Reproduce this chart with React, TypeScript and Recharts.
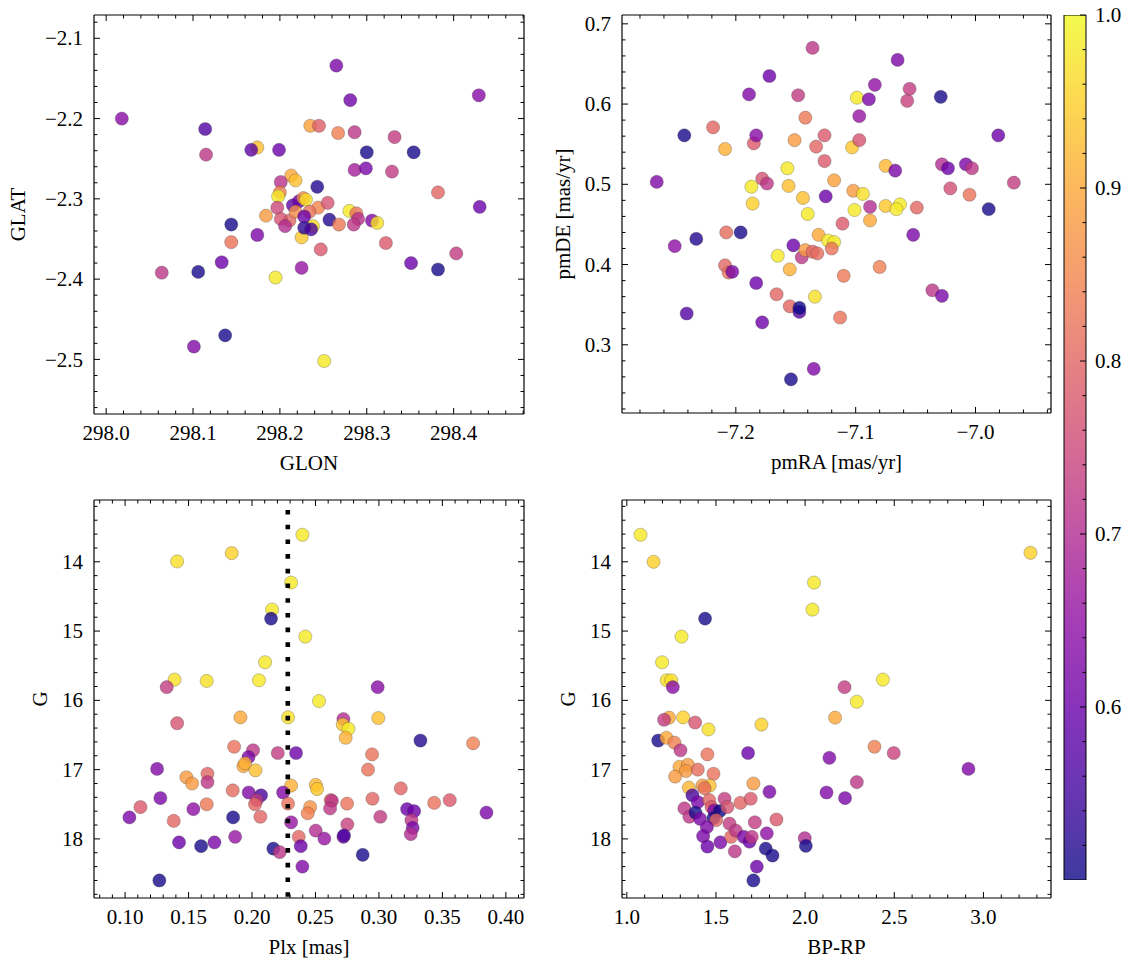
import React from 'react';
import { ScatterChart, Scatter, XAxis, YAxis, BarChart, Bar } from 'recharts';

const FONT = '"Liberation Serif", "DejaVu Serif", serif';
const FS = 21;

// ---- data: [x, y, membership probability] ----
const glonGlat: number[][] = [
  [298.018, -2.200, 0.64], [298.265, -2.134, 0.62], [298.281, -2.177, 0.61], [298.429, -2.171, 0.64],
  [298.114, -2.213, 0.57], [298.115, -2.245, 0.72], [298.235, -2.209, 0.89], [298.245, -2.209, 0.79],
  [298.267, -2.218, 0.84], [298.286, -2.217, 0.72], [298.332, -2.223, 0.73], [298.174, -2.236, 0.93],
  [298.167, -2.239, 0.58], [298.199, -2.239, 0.6], [298.300, -2.242, 0.51], [298.354, -2.242, 0.51],
  [298.286, -2.264, 0.68], [298.299, -2.262, 0.62], [298.329, -2.266, 0.73], [298.382, -2.292, 0.8],
  [298.430, -2.310, 0.6], [298.243, -2.285, 0.52], [298.213, -2.271, 0.9], [298.218, -2.277, 0.93],
  [298.201, -2.279, 0.71], [298.200, -2.292, 0.84], [298.198, -2.297, 0.98], [298.197, -2.311, 0.75],
  [298.184, -2.321, 0.88], [298.215, -2.308, 0.58], [298.222, -2.303, 0.6], [298.227, -2.299, 0.86],
  [298.230, -2.301, 0.97], [298.244, -2.311, 0.85], [298.255, -2.305, 0.77], [298.257, -2.326, 0.52],
  [298.280, -2.315, 0.98], [298.288, -2.318, 0.82], [298.290, -2.325, 0.71], [298.268, -2.332, 0.83],
  [298.285, -2.332, 0.72], [298.306, -2.327, 0.63], [298.312, -2.330, 0.97], [298.322, -2.355, 0.78],
  [298.403, -2.368, 0.73], [298.351, -2.380, 0.6], [298.382, -2.388, 0.51], [298.247, -2.363, 0.78],
  [298.225, -2.348, 0.94], [298.238, -2.334, 0.97], [298.211, -2.327, 0.8], [298.201, -2.325, 0.77],
  [298.218, -2.316, 0.86], [298.234, -2.316, 0.82], [298.228, -2.322, 0.6], [298.206, -2.334, 0.7],
  [298.228, -2.336, 0.53], [298.236, -2.338, 0.56], [298.144, -2.332, 0.51], [298.144, -2.354, 0.82],
  [298.174, -2.345, 0.62], [298.133, -2.379, 0.6], [298.106, -2.391, 0.51], [298.064, -2.392, 0.72],
  [298.195, -2.398, 0.98], [298.225, -2.386, 0.66], [298.137, -2.470, 0.51], [298.101, -2.484, 0.63],
  [298.251, -2.502, 0.98],
];

const pmraPmde: number[][] = [
  [-7.266, 0.503, 0.63], [-7.251, 0.423, 0.65], [-7.243, 0.561, 0.51], [-7.241, 0.339, 0.57],
  [-7.233, 0.432, 0.52], [-7.219, 0.571, 0.8], [-7.209, 0.544, 0.91], [-7.208, 0.440, 0.81],
  [-7.196, 0.440, 0.51], [-7.209, 0.399, 0.8], [-7.206, 0.390, 0.82], [-7.203, 0.391, 0.62],
  [-7.189, 0.612, 0.63], [-7.172, 0.635, 0.6], [-7.185, 0.551, 0.78], [-7.183, 0.561, 0.64],
  [-7.187, 0.497, 0.98], [-7.186, 0.476, 0.95], [-7.178, 0.507, 0.77], [-7.174, 0.501, 0.72],
  [-7.183, 0.377, 0.6], [-7.178, 0.328, 0.6], [-7.165, 0.411, 0.98], [-7.166, 0.363, 0.8],
  [-7.157, 0.520, 0.98], [-7.156, 0.498, 0.93], [-7.151, 0.555, 0.88], [-7.148, 0.611, 0.73],
  [-7.142, 0.583, 0.83], [-7.144, 0.483, 0.93], [-7.140, 0.463, 0.98], [-7.152, 0.424, 0.6],
  [-7.155, 0.394, 0.91], [-7.155, 0.348, 0.8], [-7.147, 0.341, 0.57], [-7.147, 0.346, 0.5],
  [-7.145, 0.409, 0.72], [-7.142, 0.418, 0.88], [-7.136, 0.670, 0.72], [-7.133, 0.547, 0.8],
  [-7.126, 0.561, 0.78], [-7.126, 0.529, 0.78], [-7.125, 0.485, 0.6], [-7.131, 0.437, 0.9],
  [-7.136, 0.416, 0.8], [-7.132, 0.414, 0.81], [-7.134, 0.360, 0.97], [-7.154, 0.257, 0.51],
  [-7.135, 0.270, 0.63], [-7.118, 0.505, 0.89], [-7.123, 0.430, 0.98], [-7.118, 0.428, 0.98],
  [-7.120, 0.420, 0.82], [-7.111, 0.451, 0.78], [-7.110, 0.386, 0.83], [-7.113, 0.334, 0.82],
  [-7.103, 0.546, 0.94], [-7.097, 0.555, 0.77], [-7.097, 0.585, 0.66], [-7.099, 0.608, 0.98],
  [-7.089, 0.606, 0.62], [-7.084, 0.624, 0.65], [-7.102, 0.492, 0.88], [-7.094, 0.488, 0.97],
  [-7.101, 0.468, 0.98], [-7.088, 0.472, 0.7], [-7.088, 0.455, 0.9], [-7.080, 0.397, 0.84],
  [-7.075, 0.523, 0.92], [-7.075, 0.473, 0.94], [-7.067, 0.517, 0.62], [-7.065, 0.655, 0.62],
  [-7.063, 0.475, 0.98], [-7.066, 0.469, 0.98], [-7.057, 0.604, 0.74], [-7.055, 0.619, 0.73],
  [-7.052, 0.437, 0.62], [-7.049, 0.471, 0.8], [-7.036, 0.368, 0.72], [-7.028, 0.361, 0.62],
  [-7.029, 0.609, 0.51], [-7.028, 0.525, 0.7], [-7.023, 0.520, 0.6], [-7.021, 0.495, 0.76],
  [-7.008, 0.525, 0.62], [-7.003, 0.520, 0.72], [-7.005, 0.487, 0.82], [-6.989, 0.469, 0.51],
  [-6.981, 0.561, 0.6], [-6.968, 0.502, 0.73],
];

const plxG: number[][] = [
  [0.2397, 13.61, 0.98], [0.184, 13.875, 0.95], [0.141, 13.995, 0.97], [0.2308, 14.30, 0.98],
  [0.2158, 14.69, 0.98], [0.215, 14.82, 0.51], [0.242, 15.08, 0.98], [0.2103, 15.45, 0.98],
  [0.139, 15.70, 0.97], [0.1643, 15.72, 0.97], [0.2055, 15.71, 0.98], [0.1328, 15.81, 0.73],
  [0.299, 15.81, 0.64], [0.2528, 16.01, 0.98], [0.141, 16.33, 0.77], [0.1909, 16.245, 0.9],
  [0.2284, 16.245, 0.97], [0.2995, 16.255, 0.93], [0.272, 16.27, 0.7], [0.2715, 16.35, 0.94],
  [0.276, 16.41, 0.98], [0.2738, 16.54, 0.91], [0.3327, 16.58, 0.52], [0.3742, 16.62, 0.84],
  [0.1859, 16.67, 0.82], [0.2008, 16.72, 0.72], [0.1972, 16.82, 0.62], [0.2203, 16.76, 0.73],
  [0.2347, 16.76, 0.6], [0.2946, 16.78, 0.82], [0.1252, 16.99, 0.63], [0.1649, 17.06, 0.8],
  [0.1483, 17.11, 0.88], [0.1528, 17.20, 0.88], [0.1649, 17.18, 0.72], [0.1932, 16.95, 0.9],
  [0.1945, 16.91, 0.91], [0.2027, 17.01, 0.93], [0.2914, 17.00, 0.82], [0.2308, 17.23, 0.91],
  [0.2502, 17.22, 0.92], [0.2513, 17.28, 0.94], [0.3172, 17.27, 0.8], [0.1278, 17.41, 0.62],
  [0.1121, 17.54, 0.78], [0.1034, 17.69, 0.62], [0.1383, 17.74, 0.8], [0.1538, 17.57, 0.65],
  [0.1643, 17.50, 0.83], [0.1848, 17.30, 0.81], [0.1974, 17.33, 0.63], [0.2071, 17.37, 0.56],
  [0.2037, 17.44, 0.72], [0.2024, 17.50, 0.8], [0.2066, 17.68, 0.8], [0.1851, 17.69, 0.51],
  [0.2245, 17.33, 0.63], [0.2284, 17.49, 0.82], [0.2458, 17.54, 0.87], [0.2439, 17.63, 0.84],
  [0.2620, 17.44, 0.8], [0.2630, 17.45, 0.72], [0.2615, 17.56, 0.72], [0.2749, 17.49, 0.82],
  [0.2949, 17.42, 0.8], [0.3011, 17.68, 0.73], [0.2751, 17.79, 0.74], [0.2308, 17.76, 0.66],
  [0.2502, 17.88, 0.7], [0.2570, 17.995, 0.66], [0.2720, 17.97, 0.62], [0.2725, 17.95, 0.56],
  [0.2368, 17.97, 0.8], [0.2384, 18.105, 0.6], [0.2397, 18.40, 0.63], [0.2168, 18.14, 0.51],
  [0.2218, 18.19, 0.72], [0.2872, 18.23, 0.51], [0.3222, 17.57, 0.6], [0.3277, 17.60, 0.6],
  [0.3256, 17.73, 0.72], [0.3266, 17.84, 0.62], [0.3251, 17.93, 0.7], [0.3435, 17.48, 0.82],
  [0.3558, 17.44, 0.78], [0.3847, 17.62, 0.62], [0.1425, 18.05, 0.6], [0.1599, 18.105, 0.51],
  [0.1704, 18.05, 0.62], [0.1867, 17.97, 0.66], [0.1270, 18.60, 0.51],
];

const bprpG: number[][] = [
  [1.077, 13.61, 0.98], [1.150, 14.0, 0.95], [3.264, 13.87, 0.95], [2.050, 14.30, 0.98],
  [2.041, 14.69, 0.98], [1.439, 14.82, 0.51], [1.307, 15.08, 0.98], [1.198, 15.45, 0.98],
  [1.224, 15.71, 0.97], [1.249, 15.71, 0.97], [1.258, 15.81, 0.64], [2.436, 15.70, 0.98],
  [2.221, 15.81, 0.73], [2.290, 16.02, 0.98], [1.237, 16.25, 0.9], [1.316, 16.245, 0.95],
  [1.209, 16.28, 0.73], [1.383, 16.32, 0.77], [1.458, 16.42, 0.97], [1.755, 16.35, 0.95],
  [2.168, 16.25, 0.9], [1.176, 16.58, 0.51], [1.222, 16.54, 0.9], [1.267, 16.61, 0.84],
  [1.301, 16.72, 0.72], [1.452, 16.78, 0.82], [1.680, 16.76, 0.6], [2.389, 16.67, 0.84],
  [2.497, 16.76, 0.74], [2.136, 16.83, 0.63], [2.916, 16.99, 0.63], [1.295, 16.96, 0.9],
  [1.342, 16.93, 0.88], [1.331, 17.02, 0.88], [1.271, 17.10, 0.88], [1.398, 17.00, 0.81],
  [1.486, 17.06, 0.82], [1.348, 17.26, 0.92], [1.465, 17.23, 0.93], [1.424, 17.23, 0.88],
  [1.436, 17.27, 0.82], [1.710, 17.20, 0.88], [1.800, 17.32, 0.62], [2.120, 17.33, 0.63],
  [2.290, 17.18, 0.72], [2.224, 17.41, 0.62], [1.368, 17.37, 0.56], [1.323, 17.56, 0.72],
  [1.398, 17.47, 0.62], [1.351, 17.68, 0.72], [1.385, 17.62, 0.51], [1.411, 17.71, 0.62],
  [1.462, 17.44, 0.8], [1.475, 17.54, 0.78], [1.490, 17.59, 0.62], [1.521, 17.60, 0.5],
  [1.486, 17.70, 0.51], [1.548, 17.42, 0.73], [1.564, 17.54, 0.77], [1.501, 17.73, 0.8],
  [1.449, 17.83, 0.63], [1.428, 17.96, 0.62], [1.452, 18.11, 0.6], [1.525, 18.05, 0.62],
  [1.576, 17.78, 0.73], [1.585, 17.97, 0.8], [1.611, 17.88, 0.72], [1.606, 18.18, 0.72],
  [1.637, 17.48, 0.8], [1.695, 17.42, 0.78], [1.656, 17.97, 0.62], [1.688, 18.04, 0.6],
  [1.701, 17.97, 0.72], [1.718, 17.76, 0.73], [1.785, 17.92, 0.65], [1.839, 17.72, 0.78],
  [1.779, 18.14, 0.51], [1.817, 18.24, 0.51], [1.729, 18.40, 0.6], [1.710, 18.60, 0.51],
  [1.998, 17.99, 0.7], [2.004, 18.10, 0.51],
];

const plxMean = 0.2282;
const colorRange = [0.5, 1.0];

// ---- axis limits ----
const glonLim = [297.986, 298.481];
const glatLim = [-2.568, -2.071];
const pmraLim = [-7.295, -6.937];
const pmdeLim = [0.215, 0.711];
const plxLim = [0.0755, 0.4143];
const gLim = [13.108, 18.853];
const bprpLim = [0.973, 3.379];

// ---- ticks ----
const glonMajor = [298.0, 298.1, 298.2, 298.3, 298.4];
const glatMajor = [-2.5, -2.4, -2.3, -2.2, -2.1];
const pmraMajor = [-7.2, -7.1, -7.0];
const pmdeMajor = [0.3, 0.4, 0.5, 0.6, 0.7];
const plxMajor = [0.10, 0.15, 0.20, 0.25, 0.30, 0.35, 0.40];
const gMajor = [14, 15, 16, 17, 18];
const bprpMajor = [1.0, 1.5, 2.0, 2.5, 3.0];
const cbMajor = [0.6, 0.7, 0.8, 0.9, 1.0];

function steps(a: number, b: number, s: number): number[] {
  const n = Math.round((b - a) / s);
  const out: number[] = [];
  for (let i = 0; i <= n; i++) out.push(+(a + i * s).toFixed(6));
  return out;
}

const glonTicks = steps(298.0, 298.48, 0.02);
const glatTicks = steps(-2.56, -2.08, 0.02);
const pmraTicks = steps(-7.28, -6.94, 0.02);
const pmdeTicks = steps(0.22, 0.70, 0.02);
const plxTicks = steps(0.08, 0.41, 0.01);
const gTicks = steps(13.2, 18.8, 0.2);
const bprpTicks = steps(1.0, 3.3, 0.1);
const cbTicks = steps(0.52, 1.0, 0.02);

// ---- colormap (plasma) ----
const PLASMA = ['#0d0887', '#41049d', '#6a00a8', '#8f0da4', '#b12a90', '#cc4778', '#e16462', '#f2844b', '#fca636', '#fcce25', '#f0f921'];
function hex(c: string) { return [1, 3, 5].map((i) => parseInt(c.slice(i, i + 2), 16)); }
function plasma(t: number): string {
  const u = Math.max(0, Math.min(1, t)) * 10;
  const i = Math.min(9, Math.floor(u));
  const f = u - i;
  const a = hex(PLASMA[i]);
  const b = hex(PLASMA[i + 1]);
  const c = a.map((v, k) => Math.round(v + (b[k] - v) * f));
  return `rgb(${c[0]},${c[1]},${c[2]})`;
}
const colorOf = (p: number) => plasma((p - colorRange[0]) / (colorRange[1] - colorRange[0]));

// ---- tick renderers ----
const MAJ = 6;
const MIN = 3.5;
const isMajor = (v: number, m: number[]) => m.some((x) => Math.abs(x - v) < 1e-6);
const fmtNeg = (d: number) => (v: number) => (v < 0 ? '\u2212' + Math.abs(v).toFixed(d) : v.toFixed(d));
const textStyle = { fontFamily: FONT, fontSize: FS, fill: '#000' } as const;

const bottomTick = (major: number[], fmt: (v: number) => string) => (p: any) => {
  const v = p.payload.value;
  const mj = isMajor(v, major);
  return (
    <g>
      <line x1={p.x} y1={p.y} x2={p.x} y2={p.y - (mj ? MAJ : MIN)} stroke="#000" strokeWidth={1} />
      {mj && <text x={p.x} y={p.y + 25.5} textAnchor="middle" style={textStyle}>{fmt(v)}</text>}
    </g>
  );
};
const topTick = (major: number[]) => (p: any) => {
  const mj = isMajor(p.payload.value, major);
  return <line x1={p.x} y1={p.y} x2={p.x} y2={p.y + (mj ? MAJ : MIN)} stroke="#000" strokeWidth={1} />;
};
const leftTick = (major: number[], fmt: (v: number) => string) => (p: any) => {
  const v = p.payload.value;
  const mj = isMajor(v, major);
  return (
    <g>
      <line x1={p.x} y1={p.y} x2={p.x + (mj ? MAJ : MIN)} y2={p.y} stroke="#000" strokeWidth={1} />
      {mj && <text x={p.x - 11} y={p.y} dy="0.34em" textAnchor="end" style={textStyle}>{fmt(v)}</text>}
    </g>
  );
};
const rightTick = (major: number[], fmt?: (v: number) => string) => (p: any) => {
  const v = p.payload.value;
  const mj = isMajor(v, major);
  return (
    <g>
      <line x1={p.x} y1={p.y} x2={p.x - (mj ? MAJ : MIN)} y2={p.y} stroke="#000" strokeWidth={1} />
      {mj && fmt && <text x={p.x + 9} y={p.y} dy="0.34em" textAnchor="start" style={textStyle}>{fmt(v)}</text>}
    </g>
  );
};

const Dot = (p: any) => (
  <circle cx={p.cx} cy={p.cy} r={6.6} fill={colorOf(p.payload.p)} fillOpacity={0.8} stroke="#333" strokeOpacity={0.55} strokeWidth={0.5} />
);
const NoDot = () => <g />;

const AXLINE = { stroke: '#000', strokeWidth: 1.2 };
const DOTTED = { stroke: '#000', strokeWidth: 4.6, strokeDasharray: '4.6 10.1', strokeDashoffset: 4.7, fill: 'none' };

type PanelProps = {
  left: number; top: number; width: number; height: number;
  margin: { top: number; right: number; bottom: number; left: number };
  rows: number[][];
  xDomain: number[]; yDomain: number[];
  xTicks: number[]; yTicks: number[]; xMajor: number[]; yMajor: number[];
  xFmt: (v: number) => string; yFmt: (v: number) => string;
  xLabel: string; yLabel: string; yLabelOffset: number;
  reversed?: boolean; vline?: number;
};

// Axis boxes are 1px thick (Recharts skips zero-sized axes); margins are reduced by 1 to compensate.
function Panel(pp: PanelProps) {
  const data = pp.rows.map((r) => ({ x: r[0], y: r[1], p: r[2] }));
  const vlineData = pp.vline !== undefined
    ? [{ x: pp.vline, y: pp.yDomain[0] }, { x: pp.vline, y: pp.yDomain[1] }]
    : [];
  const m = { top: pp.margin.top - 1, right: pp.margin.right - 1, bottom: pp.margin.bottom - 1, left: pp.margin.left - 1 };
  return (
    <div style={{ position: 'absolute', left: pp.left, top: pp.top }}>
      <ScatterChart width={pp.width} height={pp.height} margin={m}>
        <XAxis xAxisId="b" type="number" dataKey="x" domain={pp.xDomain} allowDataOverflow ticks={pp.xTicks} interval={0}
          tick={bottomTick(pp.xMajor, pp.xFmt)} tickLine={false} tickSize={0} tickMargin={0} height={1} axisLine={AXLINE}
          label={{ value: pp.xLabel, position: 'bottom', offset: 40, style: { fontFamily: FONT, fontSize: FS }, fill: '#000' }} />
        <XAxis xAxisId="t" orientation="top" type="number" dataKey="x" domain={pp.xDomain} allowDataOverflow ticks={pp.xTicks} interval={0}
          tick={topTick(pp.xMajor)} tickLine={false} tickSize={0} tickMargin={0} height={1} axisLine={AXLINE} />
        <YAxis yAxisId="l" type="number" dataKey="y" domain={pp.yDomain} allowDataOverflow reversed={pp.reversed} ticks={pp.yTicks} interval={0}
          tick={leftTick(pp.yMajor, pp.yFmt)} tickLine={false} tickSize={0} tickMargin={0} width={1} axisLine={AXLINE}
          label={{ value: pp.yLabel, angle: -90, position: 'left', offset: pp.yLabelOffset - 1, style: { fontFamily: FONT, fontSize: FS, textAnchor: 'middle' }, fill: '#000' }} />
        <YAxis yAxisId="r" orientation="right" type="number" dataKey="y" domain={pp.yDomain} allowDataOverflow reversed={pp.reversed} ticks={pp.yTicks} interval={0}
          tick={rightTick(pp.yMajor)} tickLine={false} tickSize={0} tickMargin={0} width={1} axisLine={AXLINE} />
        <Scatter xAxisId="b" yAxisId="l" data={data} isAnimationActive={false} shape={Dot} />
        {pp.vline !== undefined && (
          <Scatter xAxisId="b" yAxisId="l" data={vlineData} isAnimationActive={false} shape={NoDot} line={DOTTED} fill="none" />
        )}
      </ScatterChart>
    </div>
  );
}

function ColorBar() {
  const data = [{ name: 'cb', range: colorRange }];
  return (
    <div style={{ position: 'absolute', left: 1040, top: 0 }}>
      <BarChart width={93} height={965} data={data} margin={{ top: 15, right: 46, bottom: 85, left: 24 }} barCategoryGap={0}>
        <defs>
          <linearGradient id="cbgrad" x1="0" y1="1" x2="0" y2="0">
            {PLASMA.map((c, i) => (
              <stop key={i} offset={`${i * 10}%`} stopColor={c} stopOpacity={0.8} />
            ))}
          </linearGradient>
        </defs>
        <XAxis dataKey="name" hide />
        <YAxis orientation="right" type="number" domain={colorRange} allowDataOverflow ticks={cbTicks} interval={0}
          tick={rightTick(cbMajor, (v) => v.toFixed(1))} tickLine={false} tickSize={0} tickMargin={0} width={1} axisLine={false} />
        <Bar dataKey="range" fill="url(#cbgrad)" stroke="#000" strokeWidth={1} isAnimationActive={false} />
      </BarChart>
    </div>
  );
}

export default function App() {
  return (
    <div style={{ position: 'absolute', left: 0, top: 0, width: 1133, height: 965, background: '#fff', overflow: 'hidden' }}>
      <Panel left={0} top={0} width={560} height={480} margin={{ top: 15, right: 36, bottom: 66, left: 94 }}
        rows={glonGlat} xDomain={glonLim} yDomain={glatLim}
        xTicks={glonTicks} yTicks={glatTicks} xMajor={glonMajor} yMajor={glatMajor}
        xFmt={(v) => v.toFixed(1)} yFmt={fmtNeg(1)} xLabel="GLON" yLabel="GLAT" yLabelOffset={76} />
      <Panel left={540} top={0} width={540} height={480} margin={{ top: 15, right: 29, bottom: 67, left: 82 }}
        rows={pmraPmde} xDomain={pmraLim} yDomain={pmdeLim}
        xTicks={pmraTicks} yTicks={pmdeTicks} xMajor={pmraMajor} yMajor={pmdeMajor}
        xFmt={fmtNeg(1)} yFmt={(v) => v.toFixed(1)} xLabel="pmRA [mas/yr]" yLabel="pmDE [mas/yr]" yLabelOffset={59} />
      <Panel left={0} top={480} width={560} height={485} margin={{ top: 20, right: 36, bottom: 67, left: 94 }}
        rows={plxG} xDomain={plxLim} yDomain={gLim} reversed
        xTicks={plxTicks} yTicks={gTicks} xMajor={plxMajor} yMajor={gMajor}
        xFmt={(v) => v.toFixed(2)} yFmt={(v) => String(v)} xLabel="Plx [mas]" yLabel="G" yLabelOffset={54} vline={plxMean} />
      <Panel left={540} top={480} width={540} height={485} margin={{ top: 20, right: 29, bottom: 67, left: 82 }}
        rows={bprpG} xDomain={bprpLim} yDomain={gLim} reversed
        xTicks={bprpTicks} yTicks={gTicks} xMajor={bprpMajor} yMajor={gMajor}
        xFmt={(v) => v.toFixed(1)} yFmt={(v) => String(v)} xLabel="BP-RP" yLabel="G" yLabelOffset={54} />
      <ColorBar />
    </div>
  );
}
